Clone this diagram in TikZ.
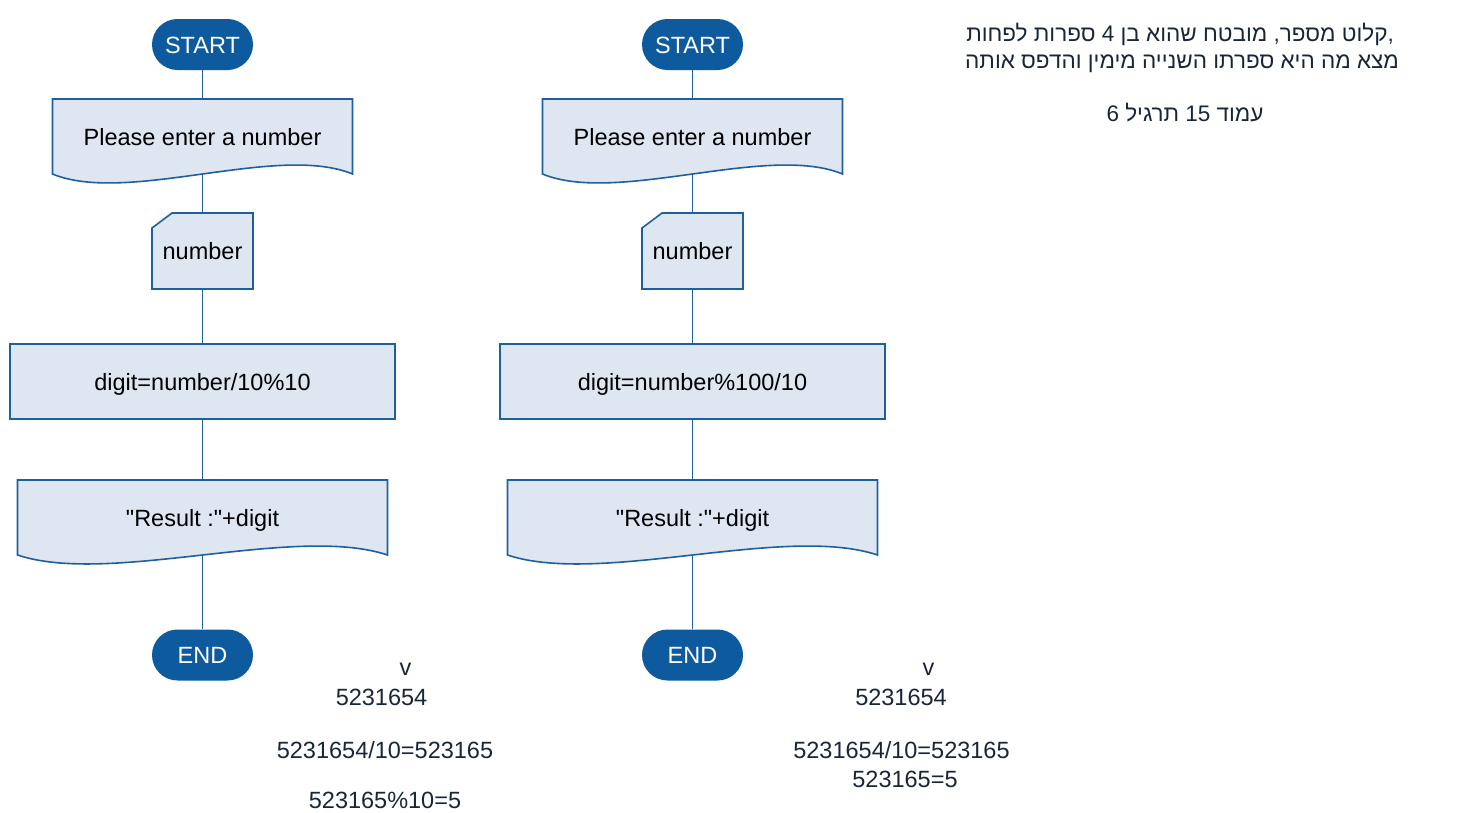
\documentclass[tikz,border=0pt]{standalone}
\usepackage{fontspec}
\setmainfont{Liberation Sans}
\newfontfamily\hebfont[Script=Hebrew]{Liberation Sans}
\TeXXeTstate=1
\usetikzlibrary{calc,backgrounds}

\definecolor{termblue}{HTML}{0D5A9E}
\definecolor{lineblue}{HTML}{1F5F9C}
\definecolor{boxfill}{HTML}{DEE6F1}
\definecolor{notecol}{HTML}{1A2638}

\newcommand{\docoutline}[1]{%
  \begin{pgfonlayer}{background}
  \draw[shapeline] (#1.south west) -- (#1.north west) -- (#1.north east) -- (#1.south east)
    .. controls ($(#1.south east)!0.25!(#1.south west)+(0,-31)$) and ($(#1.south east)!0.75!(#1.south west)+(0,31)$) .. (#1.south west) -- cycle;
  \end{pgfonlayer}}
\newcommand{\cardoutline}[1]{%
  \begin{pgfonlayer}{background}
  \draw[shapeline] ([yshift=-15pt]#1.north west) -- ([xshift=20pt]#1.north west) -- (#1.north east) -- (#1.south east) -- (#1.south west) -- cycle;
  \end{pgfonlayer}}

\begin{document}
\begin{tikzpicture}[x=1pt, y=-1pt, every node/.style={font=\fontsize{23.5}{28}\selectfont, text height=17pt, text depth=0pt},
        shapeline/.style={draw=lineblue, fill=boxfill, line width=1.6pt},
        term/.style={fill=termblue, text=white, rounded corners=25.5pt, minimum width=101pt, minimum height=51pt, inner sep=0pt},
        docbox/.style={minimum height=75pt, inner sep=0pt, outer sep=0pt},
        cardbox/.style={minimum width=101pt, minimum height=76pt, inner sep=0pt, outer sep=0pt},
        procbox/.style={shapeline, minimum width=385pt, minimum height=75pt, inner sep=0pt},
        conn/.style={lineblue, line width=1.6pt},
        note/.style={text=notecol, inner sep=0pt},
        hebnote/.style={note, font=\hebfont\fontsize{22.5}{27}\selectfont}]
        \useasboundingbox (0,0) rectangle (1458,812);

        \node[term] (s1) at (202.5,44.5) {START};
        \node[docbox, minimum width=300pt] (in1) at (202.5,136.5) {Please enter a number};
        \node[cardbox] (v1) at (202.5,251) {number};
        \node[procbox] (c1) at (202.5,381.5) {digit=number/10\%10};
        \node[docbox, minimum width=370pt] (out1) at (202.5,517.5) {\textquotedbl Result :\textquotedbl+digit};
        \node[term] (e1) at (202.5,655) {END};

        \node[term] (s2) at (692.5,44.5) {START};
        \node[docbox, minimum width=300pt] (in2) at (692.5,136.5) {Please enter a number};
        \node[cardbox] (v2) at (692.5,251) {number};
        \node[procbox] (c2) at (692.5,381.5) {digit=number\%100/10};
        \node[docbox, minimum width=370pt] (out2) at (692.5,517.5) {\textquotedbl Result :\textquotedbl+digit};
        \node[term] (e2) at (692.5,655) {END};

        \docoutline{in1}
        \docoutline{out1}
        \cardoutline{v1}
        \docoutline{in2}
        \docoutline{out2}
        \cardoutline{v2}

        \draw[conn] (s1) -- (in1);
        \draw[conn] (in1) -- (v1);
        \draw[conn] (v1) -- (c1);
        \draw[conn] (c1) -- (out1);
        \draw[conn] (out1) -- (e1);
        \draw[conn] (s2) -- (in2);
        \draw[conn] (in2) -- (v2);
        \draw[conn] (v2) -- (c2);
        \draw[conn] (c2) -- (out2);
        \draw[conn] (out2) -- (e2);

        \node[note] (t1a) at (405.5,667) {v};
        \node[note] (t1b) at (381.5,697) {5231654};
        \node[note] (t1c) at (385,750) {5231654/10=523165};
        \node[note] (t1d) at (385,800) {523165\%10=5};
        \node[note] (t2a) at (928.5,667) {v};
        \node[note] (t2b) at (901,697) {5231654};
        \node[note] (t2c) at (901.5,750) {5231654/10=523165};
        \node[note] (t2d) at (905,779) {523165=5};

        \node[hebnote] (h1) at (1180,33) {\beginR,קלוט מספר, מובטח שהוא בן \beginL 4\endL{} ספרות לפחות\endR};
        \node[hebnote] (h2) at (1182,60) {\beginR מצא מה היא ספרתו השנייה מימין והדפס אותה\endR};
        \node[hebnote] (h3) at (1185,113) {\beginR עמוד \beginL 15\endL{} תרגיל \beginL 6\endL{}\endR};
\end{tikzpicture}
\end{document}
